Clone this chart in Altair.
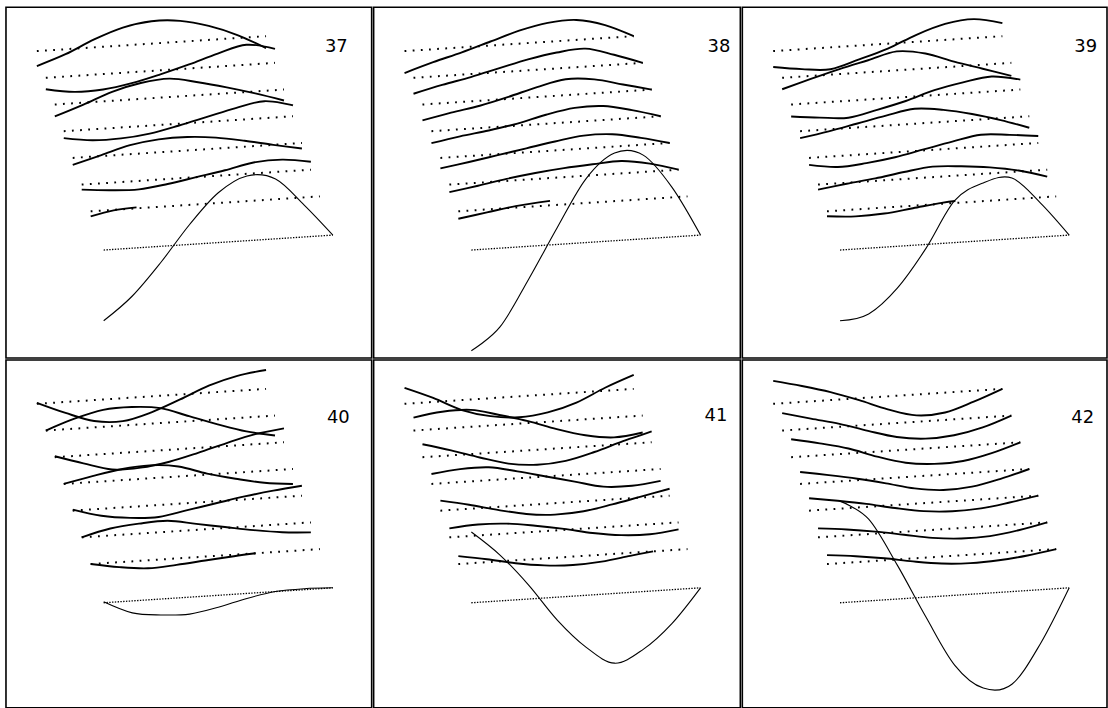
import altair as alt
import pandas as pd

# Stations along each strip (fraction of strip length)
S = [0, 0.125, 0.25, 0.375, 0.5, 0.625, 0.75, 0.875, 1.0]

# Strip 6 is only drawn part of the way in most modes
STRIP6_S = {
    37: [0, 0.1, 0.2],
    38: [0, 0.125, 0.25, 0.4],
    39: [0, 0.125, 0.25, 0.375, 0.5, 0.56],
    40: [0, 0.125, 0.25, 0.375, 0.5, 0.625, 0.72],
    41: [0, 0.125, 0.25, 0.375, 0.5, 0.625, 0.75, 0.85],
    42: S,
}

# Deflection of each strip at the stations (up positive), strips 0..7
mode37 = [
    [-15, -5, 8, 18, 22.5, 21, 14, 3, -12],
    [-11.5, -16, -15.5, -11, -4, 4, 13, 20, 14],
    [-12, -2, 9, 16, 18.5, 13, 6, -2, -11],
    [-7, -11, -11, -8, -2, 5, 12, 17, 11],
    [-7, 1, 9, 13, 13.5, 11, 6, 0, -5.5],
    [-5, -7.5, -8.5, -5, 0, 5, 11, 12, 8],
    [-5, -0.5, 1],
    [-71, -48, -16, 20, 50, 65, 60, 32, 0],
]
mode38 = [
    [-22, -13, -5, 4, 13, 19, 20, 13, 0],
    [-16, -9, -3, 4, 11, 16, 18, 10, 0],
    [-16, -10, -5, 2, 10, 16, 14, 7, 0],
    [-12, -7, -3, 2, 9, 14, 14, 8, 0],
    [-10.5, -6, -1, 4, 9, 13, 12.5, 7, 0],
    [-7.5, -3, 2, 6, 9, 11, 12.5, 8, 0],
    [-7.5, -3, 1.5, 4.5],
    [-101, -79, -33, 17, 64, 88, 84, 50, 0],
]
mode39 = [
    [-16, -20, -22, -14, -5, 7, 16, 19, 13],
    [-11.5, -3, 5, 12, 19, 15, 5, -4, -13],
    [-12, -15, -17, -11, -4, 5, 11, 15, 10],
    [-7, -2, 4, 10, 15, 12, 6, -2, -11.5],
    [-7, -11, -9, -5, 1, 7, 12, 10, 7],
    [-5, -1, 2.5, 7, 10.5, 9, 6, 1, -7],
    [-5, -7, -6, -2.5, 1, 2],
    [-71, -66, -42, -4, 42, 58, 61, 34, 0],
]
mode40 = [
    [1, -11, -21, -23, -16, -5, 7, 15, 19],
    [0, 10, 17, 18, 15, 5, -5, -14, -20],
    [1, -8, -16, -16, -12, -5, 3, 10, 14],
    [0, 6, 11, 13, 10, 1, -6, -12, -15],
    [1, -7, -11, -12, -7, -2, 3, 7, 10],
    [0, 7, 10, 11, 6, 1, -4, -8, -10],
    [0, -5, -8, -6.5, -4, -1.5, 0],
    [1, -12, -16, -17, -12, -5, 0, 1, 0],
]
mode41 = [
    [16, 4, -10, -18, -21, -18, -10, 3, 14],
    [13, 17, 17, 10, 2, -8, -16, -20, -17],
    [13, 5, -4, -12, -15, -13, -6, 3, 11],
    [10, 13, 13, 7, 0, -7, -14, -15, -12],
    [10, 4, -3, -9, -11.5, -10, -5, 1, 7],
    [9, 11, 10, 6, 1, -5, -9, -10, -7],
    [8, 3, -3, -7, -8.5, -7, -3, 0],
    [71, 46, 14, -23, -52, -70, -58, -34, 0],
]
mode42 = [
    [23, 16, 8, -2, -13, -21, -20, -11, 0],
    [17.5, 10, 3, -6, -14, -17.5, -16, -10, 0],
    [18, 12, 5, -5, -13, -16, -15, -9, 0],
    [12, 7, 1.5, -5, -12, -15.5, -14, -8, 0],
    [12.5, 8, 3, -3, -8, -10, -9, -5, 0],
    [9, 6, 2, -3, -8, -10.5, -10, -6, 0],
    [9, 6, 2, -3, -7, -8.5, -7.5, -4.5, 0],
    [102, 82, 34, -20, -70, -95, -93, -54, 0],
]
MODES = {37: mode37, 38: mode38, 39: mode39, 40: mode40, 41: mode41, 42: mode42}

# Depth position of each strip
DEPTH = [0, 1, 2, 3, 4, 5, 6, 7.45]

# Oblique projection: strip start, strip run/rise, depth step (panel pixels)
X0, Y0 = 31, 44
LX, LY = 230, 15
DX, DY = 9, 26.8

# Panel layout
COL_W = [367, 368, 366]
ROW_H = [352, 349]
LABEL_POS = {37: (343, 45), 38: (358, 45), 39: (356, 45),
             40: (345, 63), 41: (355, 61), 42: (353, 63)}


def project(j, s, d=0.0):
    x = X0 + DX * DEPTH[j] + LX * s
    y = Y0 + DY * DEPTH[j] - LY * s - d
    return x, y


def panel(mode, w, h):
    curves, bases = [], []
    for j, disp in enumerate(MODES[mode]):
        st = STRIP6_S[mode] if j == 6 else S
        for s, d in zip(st, disp):
            x, y = project(j, s, d)
            curves.append({"strip": j, "x": x, "y": y, "big": j == 7})
        for s in (0.0, 1.0):
            x, y = project(j, s)
            bases.append({"strip": j, "x": x, "y": y, "big": j == 7})
    cdf = pd.DataFrame(curves)
    bdf = pd.DataFrame(bases)

    xs = alt.X("x:Q", scale=alt.Scale(domain=[0, w], nice=False, zero=False), axis=None)
    ys = alt.Y("y:Q", scale=alt.Scale(domain=[0, h], nice=False, zero=False, reverse=True), axis=None)

    base_small = alt.Chart(bdf[~bdf.big]).mark_line(
        color="black", strokeWidth=2, strokeDash=[1.8, 6.4], strokeCap="butt"
    ).encode(x=xs, y=ys, detail="strip:N")
    base_big = alt.Chart(bdf[bdf.big]).mark_line(
        color="black", strokeWidth=1.3, strokeDash=[1.4, 1.4], strokeCap="butt"
    ).encode(x=xs, y=ys, detail="strip:N")
    strips = alt.Chart(cdf[~cdf.big]).mark_line(
        color="black", strokeWidth=1.9, interpolate="cardinal"
    ).encode(x=xs, y=ys, detail="strip:N")
    big = alt.Chart(cdf[cdf.big]).mark_line(
        color="black", strokeWidth=1.1, interpolate="cardinal"
    ).encode(x=xs, y=ys, detail="strip:N")

    lx, ly = LABEL_POS[mode]
    label = alt.Chart(pd.DataFrame({"t": [str(mode)]})).mark_text(
        font="DejaVu Sans", fontSize=18, align="right", baseline="alphabetic", color="black"
    ).encode(x=alt.value(lx), y=alt.value(ly), text="t:N")

    return alt.layer(base_small, base_big, strips, big, label).properties(width=w, height=h)


top = alt.hconcat(*[panel(m, COL_W[i], ROW_H[0]) for i, m in enumerate([37, 38, 39])], spacing=0)
bottom = alt.hconcat(*[panel(m, COL_W[i], ROW_H[1]) for i, m in enumerate([40, 41, 42])], spacing=0)

chart = alt.vconcat(top, bottom, spacing=0).properties(
    padding={"left": 5, "top": 5, "right": 0, "bottom": 0},
    background="white",
).configure_view(stroke="black", strokeWidth=1.6)

chart.save("out.html", embed_options={"renderer": "svg", "actions": False})
